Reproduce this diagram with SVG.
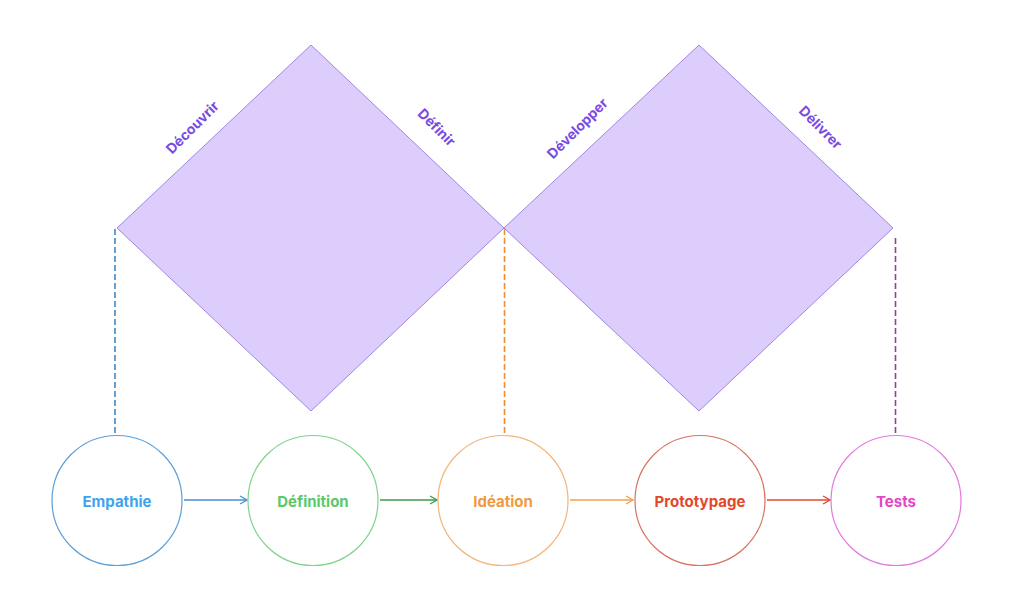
<svg xmlns="http://www.w3.org/2000/svg" width="1024" height="607" viewBox="0 0 1024 607">
  <defs>
    <style>
      .diamond { fill: #dccdfd; stroke: #9f86e2; stroke-width: 1; }
      .phase { font-family: Inter, "Liberation Sans", sans-serif; font-weight: 700; font-size: 14px; fill: #7a4be3; text-anchor: middle; dominant-baseline: central; }
      .node circle { fill: #ffffff; stroke-width: 1.2; }
      .node text { font-family: Inter, "Liberation Sans", sans-serif; font-weight: 700; font-size: 15px; text-anchor: middle; dominant-baseline: central; }
      .dash { fill: none; stroke-width: 1.6; stroke-dasharray: 6 3; }
      .arrow { fill: none; stroke-width: 1.3; }
    </style>
    <marker id="mBlue" viewBox="0 0 10 10" refX="9" refY="5" markerWidth="10" markerHeight="10" markerUnits="userSpaceOnUse" orient="auto"><path d="M2,1 L9,5 L2,9" fill="none" stroke="#4a8fcf" stroke-width="1.3"/></marker>
    <marker id="mGreen" viewBox="0 0 10 10" refX="9" refY="5" markerWidth="10" markerHeight="10" markerUnits="userSpaceOnUse" orient="auto"><path d="M2,1 L9,5 L2,9" fill="none" stroke="#3f9a4c" stroke-width="1.3"/></marker>
    <marker id="mOrange" viewBox="0 0 10 10" refX="9" refY="5" markerWidth="10" markerHeight="10" markerUnits="userSpaceOnUse" orient="auto"><path d="M2,1 L9,5 L2,9" fill="none" stroke="#f0a24f" stroke-width="1.3"/></marker>
    <marker id="mRed" viewBox="0 0 10 10" refX="9" refY="5" markerWidth="10" markerHeight="10" markerUnits="userSpaceOnUse" orient="auto"><path d="M2,1 L9,5 L2,9" fill="none" stroke="#df4a2f" stroke-width="1.3"/></marker>
  </defs>

  <g id="diamond-1">
    <polygon class="diamond" points="311,45 504,228 311,411 117,228"/>
    <text class="phase" transform="translate(192,127) rotate(-45)">Découvrir</text>
    <text class="phase" transform="translate(437,127) rotate(45)">Définir</text>
  </g>
  <g id="diamond-2">
    <polygon class="diamond" points="699,45 893,228 699,411 504,228"/>
    <text class="phase" transform="translate(577,128) rotate(-45)">Développer</text>
    <text class="phase" transform="translate(821,127) rotate(45)">Délivrer</text>
  </g>

  <g id="connectors">
    <line class="dash" x1="115" y1="229" x2="115" y2="435" stroke="#3f86c4"/>
    <line class="dash" x1="504.5" y1="229" x2="504.5" y2="435" stroke="#ee8d2e"/>
    <line class="dash" x1="895.5" y1="238" x2="895.5" y2="435" stroke="#a03a8e"/>
    <line class="arrow" x1="184" y1="500" x2="247" y2="500" stroke="#4a8fcf" marker-end="url(#mBlue)"/>
    <line class="arrow" x1="380" y1="500" x2="437" y2="500" stroke="#3f9a4c" marker-end="url(#mGreen)"/>
    <line class="arrow" x1="570" y1="500" x2="633" y2="500" stroke="#f0a24f" marker-end="url(#mOrange)"/>
    <line class="arrow" x1="767" y1="500" x2="830" y2="500" stroke="#df4a2f" marker-end="url(#mRed)"/>
  </g>

  <g id="node-empathie" class="node">
    <circle cx="117" cy="500.5" r="65" stroke="#5c9fd8"/>
    <text x="117" y="501" fill="#3fa3ee">Empathie</text>
  </g>
  <g id="node-definition" class="node">
    <circle cx="313" cy="500.5" r="65" stroke="#7dd48a"/>
    <text x="313" y="501" fill="#5ac96a">Définition</text>
  </g>
  <g id="node-ideation" class="node">
    <circle cx="503" cy="500.5" r="65" stroke="#f2b57a"/>
    <text x="503" y="501" fill="#f09a3e">Idéation</text>
  </g>
  <g id="node-prototypage" class="node">
    <circle cx="700" cy="500.5" r="65" stroke="#da7263"/>
    <text x="700" y="501" fill="#e2482a">Prototypage</text>
  </g>
  <g id="node-tests" class="node">
    <circle cx="896" cy="500.5" r="65" stroke="#e27ae0"/>
    <text x="896" y="501" fill="#e545c6">Tests</text>
  </g>
</svg>
